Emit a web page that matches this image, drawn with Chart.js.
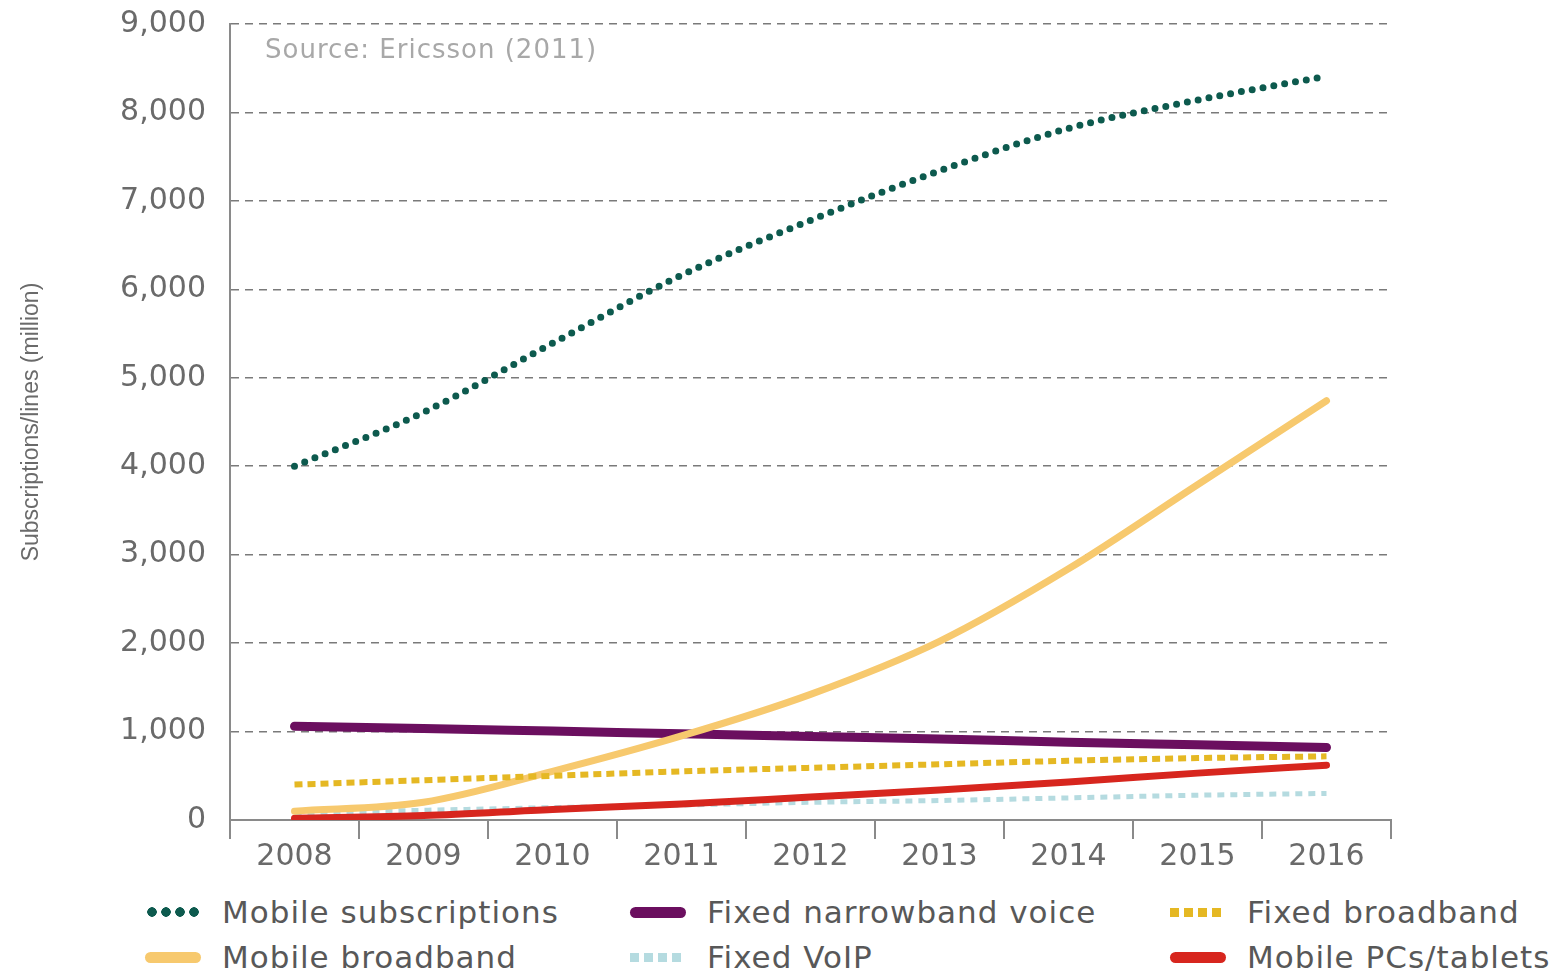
<!DOCTYPE html>
<html>
<head>
<meta charset="utf-8">
<script src="https://cdn.jsdelivr.net/npm/chart.js@4"></script>
<style>
  html, body { margin: 0; padding: 0; background: #fff; }
  #wrap { position: relative; width: 1563px; height: 973px; overflow: hidden; }
  #cbox { position: absolute; left: 0; top: 0; width: 1563px; height: 875px; }
  #source { position: absolute; left: 265px; top: 34px; font: 26px "DejaVu Sans", sans-serif; letter-spacing: 1px; color: #a8a8a8; white-space: nowrap; }
  #legend { position: absolute; left: 0; top: 885px; width: 1563px; height: 88px; font-family: "DejaVu Sans", sans-serif; }
  .li { position: absolute; display: flex; align-items: center; height: 40px; color: #585858; font-size: 31px; letter-spacing: 1px; white-space: nowrap; }
  .sym { width: 56px; height: 12px; margin-right: 21px; }
</style>
</head>
<body>
<div id="wrap">
  <div id="cbox"><canvas id="c"></canvas></div>
  <div id="source">Source: Ericsson (2011)</div>
  <div id="legend"></div>
</div>
<script>
const years = ['2008','2009','2010','2011','2012','2013','2014','2015','2016'];
const mobileSubscriptions = [4000, 4610, 5390, 6160, 6780, 7340, 7820, 8140, 8410];
const fixedNarrowbandVoice = [1060, 1035, 1005, 975, 945, 915, 880, 850, 820];
const fixedBroadband = [400, 450, 500, 550, 590, 630, 670, 700, 720];
const mobileBroadband = [100, 200, 550, 950, 1420, 2020, 2840, 3790, 4740];
const fixedVoIP = [80, 110, 140, 170, 200, 220, 250, 280, 300];
const mobilePCsTablets = [20, 50, 120, 180, 260, 340, 430, 530, 620];
const yTicks = [0, 1000, 2000, 3000, 4000, 5000, 6000, 7000, 8000, 9000];

const datasets = [
  { label: 'Mobile subscriptions', data: mobileSubscriptions, borderColor: '#0d5a4e', borderWidth: 7, borderDash: [0, 11], borderCapStyle: 'round', order: 0, col: 0, row: 0, sym: 'dots' },
  { label: 'Fixed narrowband voice', data: fixedNarrowbandVoice, borderColor: '#6b0f5f', borderWidth: 9, borderCapStyle: 'round', order: 3, col: 1, row: 0, sym: 'solid' },
  { label: 'Fixed broadband', data: fixedBroadband, borderColor: '#e5b823', borderWidth: 6, borderDash: [8, 5], borderCapStyle: 'butt', order: 1, col: 2, row: 0, sym: 'dash' },
  { label: 'Mobile broadband', data: mobileBroadband, borderColor: '#f7c96e', borderWidth: 7, borderCapStyle: 'round', order: 2, col: 0, row: 1, sym: 'solid' },
  { label: 'Fixed VoIP', data: fixedVoIP, borderColor: '#b5dbe0', borderWidth: 5, borderDash: [7, 6], borderCapStyle: 'butt', order: 5, col: 1, row: 1, sym: 'dash' },
  { label: 'Mobile PCs/tablets', data: mobilePCsTablets, borderColor: '#d7261e', borderWidth: 7, borderCapStyle: 'round', order: 4, col: 2, row: 1, sym: 'solid' }
];

datasets.forEach(d => { d.pointRadius = 0; d.fill = false; d.cubicInterpolationMode = 'monotone'; d.borderJoinStyle = 'round'; });

const ctx = document.getElementById('c');
const chart = new Chart(ctx, {
  type: 'line',
  data: { labels: years, datasets: datasets },
  options: {
    responsive: true,
    maintainAspectRatio: false,
    animation: false,
    devicePixelRatio: 1,
    layout: { padding: { left: 0, right: 172, top: 24, bottom: 0 } },
    plugins: { legend: { display: false }, tooltip: { enabled: false } },
    scales: {
      x: {
        type: 'category',
        offset: true,
        grid: { display: true, offset: true, drawOnChartArea: false, drawTicks: true, tickLength: 19, color: '#8a8a8a', lineWidth: 2 },
        border: { display: true, color: '#8a8a8a', width: 2 },
        ticks: { color: '#6a6a6a', font: { family: 'DejaVu Sans', size: 30 }, padding: 0, maxRotation: 0, autoSkip: false }
      },
      y: {
        min: 0, max: 9000,
        afterBuildTicks: s => { s.ticks = yTicks.map(v => ({ value: v })); },
        afterFit: s => { s.width = 230; s.paddingTop = 0; s.paddingBottom = 0; },
        grid: {
          drawTicks: false,
          color: c => c.tick && c.tick.value === 0 ? 'rgba(0,0,0,0)' : '#7a7a7a',
          lineWidth: 1.6
        },
        border: { display: true, color: '#8a8a8a', width: 2, dash: [8, 6] },
        ticks: { color: '#6a6a6a', font: { family: 'DejaVu Sans', size: 30 }, padding: 24 },
        title: { display: true, text: 'Subscriptions/lines (million)', color: '#6a6a6a', font: { family: 'Liberation Sans', size: 23 }, padding: { top: 18, bottom: 0 } }
      }
    }
  }
});

// Legend built from the chart's datasets
const legend = document.getElementById('legend');
const colLeft = [145, 630, 1170];
const rowTop = [7, 52];
chart.data.datasets.forEach(d => {
  const item = document.createElement('div');
  item.className = 'li';
  item.style.left = colLeft[d.col] + 'px';
  item.style.top = rowTop[d.row] + 'px';
  const s = document.createElement('div');
  s.className = 'sym';
  if (d.sym === 'solid') {
    s.style.background = d.borderColor; s.style.borderRadius = '6px'; s.style.height = '11px';
  } else if (d.sym === 'dots') {
    s.style.height = '10px';
    s.style.background = `radial-gradient(circle at 7px 5px, ${d.borderColor} 4.5px, transparent 5px) 0 0 / 14px 10px repeat-x`;
  } else {
    s.style.height = '9px';
    s.style.background = `linear-gradient(90deg, ${d.borderColor} 0 9px, transparent 9px 14px) 0 0 / 14px 9px repeat-x`;
  }
  const t = document.createElement('span');
  t.textContent = d.label;
  item.appendChild(s); item.appendChild(t);
  legend.appendChild(item);
});
</script>
</body>
</html>
